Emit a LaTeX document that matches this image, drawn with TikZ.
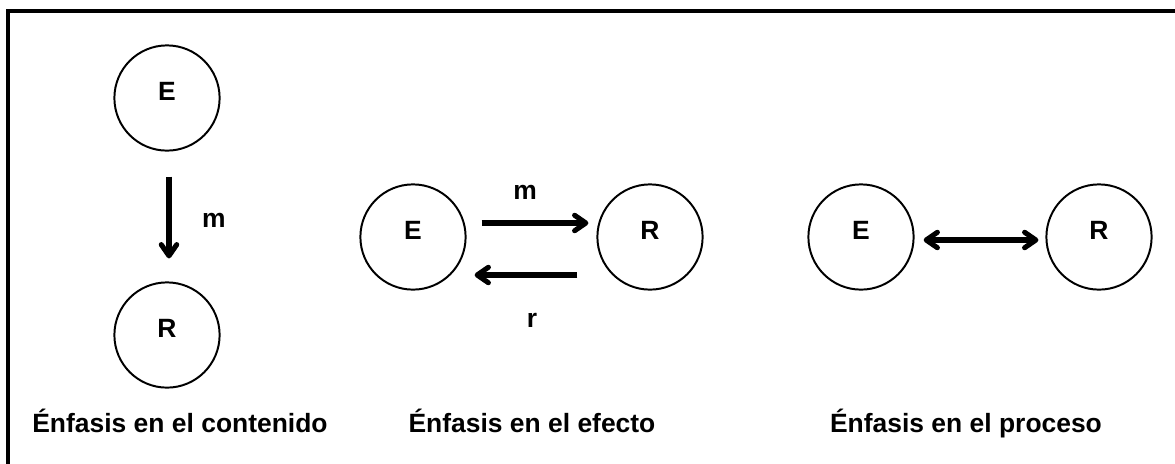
\documentclass[tikz,border=0pt]{standalone}
\usepackage{fontspec}
\setmainfont{Liberation Sans}
\usetikzlibrary{arrows.meta}

\begin{document}
\begin{tikzpicture}[x=0.025cm, y=-0.025cm,
  every node/.style={font=\fontsize{18.8}{22}\selectfont\bfseries, outer sep=0pt},
  circ/.style={draw, circle, line width=1.4pt, minimum size=2.63cm, inner sep=0pt, text depth=0.35cm},
  >={Straight Barb[length=8pt, width=11pt, round]},
  arr/.style={line width=3.6pt, ->}]
\useasboundingbox (0,0) rectangle (1175,463);
\draw[line width=2.2pt] (8,470) -- (8,11) -- (1180,11);

\node[circ] (e1) at (167,98) {E};
\node[circ] (r1) at (167,335) {R};
\node[circ] (e2) at (413,237) {E};
\node[circ] (r2) at (650,237) {R};
\node[circ] (e3) at (861,237) {E};
\node[circ] (r3) at (1099,237) {R};

\draw[arr] ([shift={(2,26)}]e1.south) -- ([shift={(2,-24)}]r1.north);
\node (m1) at (214,220) {m};

\draw[arr] ([shift={(16,-14)}]e2.east) -- ([shift={(-9,-14)}]r2.west);
\draw[arr] ([shift={(-20,38)}]r2.west) -- ([shift={(9,38)}]e2.east);
\node (m2) at (525,192) {m};
\node (r) at (532,320) {r};

\draw[arr, <->] ([shift={(10,3)}]e3.east) -- ([shift={(-8,3)}]r3.west);

\node[anchor=base] (t1) at (180,432) {Énfasis en el contenido};
\node[anchor=base] (t2) at (532,432) {Énfasis en el efecto};
\node[anchor=base] (t3) at (966,432) {Énfasis en el proceso};
\end{tikzpicture}
\end{document}
